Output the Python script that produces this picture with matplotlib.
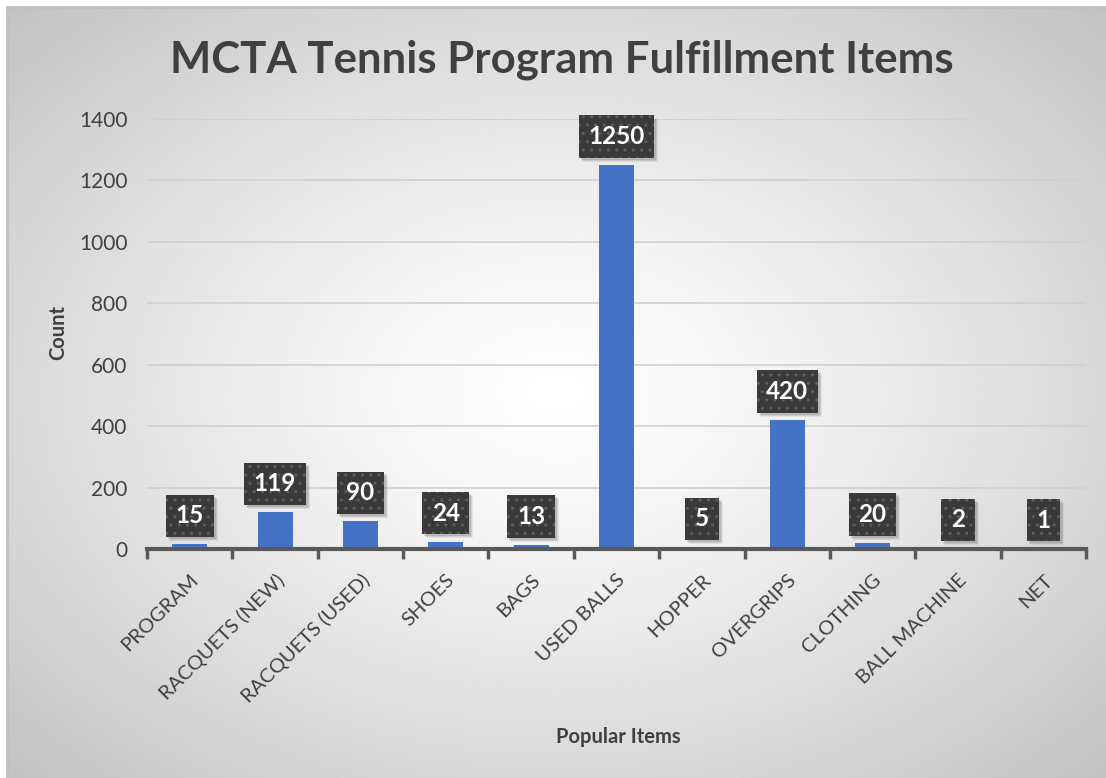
import numpy as np
import matplotlib.pyplot as plt
from matplotlib.patches import Rectangle
from matplotlib.transforms import IdentityTransform

plt.rcParams['font.family'] = ['Lato', 'DejaVu Sans']

# ----------------------------------------------------------------------
#  Data
# ----------------------------------------------------------------------
items = ['PROGRAM', 'RACQUETS (NEW)', 'RACQUETS (USED)', 'SHOES', 'BAGS',
         'USED BALLS', 'HOPPER', 'OVERGRIPS', 'CLOTHING', 'BALL MACHINE', 'NET']
counts = [15, 119, 90, 24, 13, 1250, 5, 420, 20, 2, 1]
y_ticks = [0, 200, 400, 600, 800, 1000, 1200, 1400]

title = 'MCTA Tennis Program Fulfillment Items'
x_label = 'Popular Items'
y_label = 'Count'

text_col = '#404040'
bar_col = '#4472C4'

W, H = 1106, 778
fig = plt.figure(figsize=(W / 100, H / 100), dpi=100)

# radial gradient background (chart area)
bg = fig.add_axes([7 / W, 0, 1 - 7 / W, 1 - 7 / H])
bg.set_axis_off()
gx, gy = np.meshgrid(np.linspace(-1, 1, 400), np.linspace(-1, 1, 300))
r = np.sqrt(gx ** 2 + gy ** 2) / np.sqrt(2)
shade = 1.0 - 0.24 * r ** 1.3
bg.imshow(shade, cmap='gray', vmin=0, vmax=1, aspect='auto',
          extent=[0, 1, 0, 1], interpolation='bilinear')
bg.plot([0, 0], [0, 1], color='#bfbfbf', lw=2, transform=bg.transAxes, clip_on=False)
bg.plot([0, 1], [1, 1], color='#bfbfbf', lw=2, transform=bg.transAxes, clip_on=False)

ax = fig.add_axes([147 / W, 1 - 549 / H, (1086 - 147) / W, (549 - 119) / H])
ax.patch.set_alpha(0)

x = np.arange(len(items))
ax.bar(x, counts, width=0.41, color=bar_col, zorder=3)

labels = []
for xi, c in zip(x, counts):
    t = ax.annotate(str(c), (xi, c), xytext=(0, 20.5), textcoords='offset points',
                    ha='center', va='center', fontsize=17.5, fontweight='bold',
                    color='white', zorder=5,
                    bbox=dict(boxstyle='square,pad=0.4', facecolor='#3a3a3a',
                              edgecolor='#5e5e5e', hatch='..', linewidth=0))
    labels.append(t)

ax.set_xlim(-0.5, len(items) - 0.5)
ax.set_ylim(0, 1400)
ax.set_yticks(y_ticks)
ax.set_yticklabels([str(t) for t in y_ticks], fontsize=15, color=text_col)
ax.yaxis.grid(True, color='#d0d0d0', lw=1.2, zorder=0)
ax.tick_params(axis='y', length=0, pad=14)

ax.set_xticks(x)
ax.set_xticklabels(items, rotation=45, ha='right', rotation_mode='anchor',
                   fontsize=14.5, color=text_col)
ax.set_xticks(np.arange(-0.5, len(items), 1), minor=True)
ax.tick_params(axis='x', which='major', length=0, pad=16)
ax.tick_params(axis='x', which='minor', length=7, width=2.5, color='#595959')

for s in ['top', 'right', 'left']:
    ax.spines[s].set_visible(False)
ax.spines['bottom'].set_color('#595959')
ax.spines['bottom'].set_linewidth(3)
ax.spines['bottom'].set_zorder(4)

fig.text(562 / W, 1 - 60 / H, title, ha='center', va='center',
         fontsize=31.5, fontweight='bold', color=text_col)
fig.text(618 / W, 1 - 737 / H, x_label, ha='center', va='center',
         fontsize=14.5, fontweight='bold', color=text_col)
fig.text(58 / W, 1 - 333 / H, y_label, ha='center', va='center', rotation=90,
         fontsize=14.5, fontweight='bold', color=text_col)

# soft shadow behind each label box, placed from the rendered box extent
fig.canvas.draw()
for t in labels:
    bb = t.get_bbox_patch().get_window_extent()
    for k, a in [(4, 0.12), (3, 0.18), (2, 0.22)]:
        ax.add_patch(Rectangle((bb.x0 + k, bb.y0 - k), bb.width, bb.height,
                               transform=IdentityTransform(), facecolor='#707070',
                               alpha=a, linewidth=0, zorder=4))

fig.savefig('out.png', dpi=100)
